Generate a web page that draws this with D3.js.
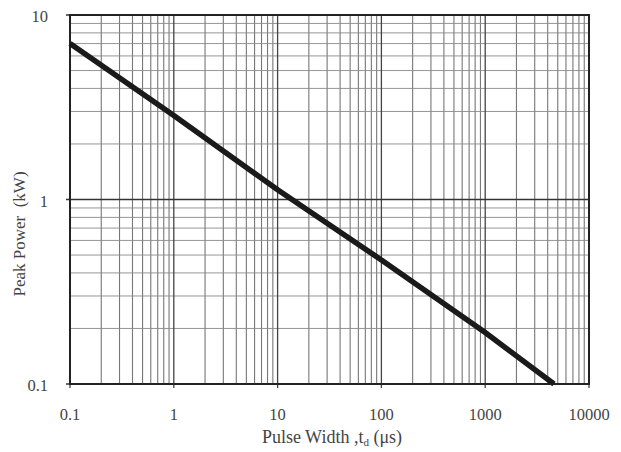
<!DOCTYPE html>
<html>
<head>
<meta charset="utf-8">
<script src="https://cdn.jsdelivr.net/npm/d3@7"></script>
<style>
	body { margin: 0; background: #fff; }
	text { font-family: "Liberation Serif", "DejaVu Serif", serif; fill: #444; white-space: pre; }
</style>
</head>
<body>
<svg id="chart" width="621" height="452"></svg>
<script>

// pulse width (us) vs peak power (kW)
var pulseWidth = [0.1, 1, 10, 100, 1000, 4600];
var peakPower = [7, 2.85, 1.13, 0.47, 0.19, 0.1];

var xTicks = [0.1, 1, 10, 100, 1000, 10000];
var xTickLabels = ["0.1", "1", "10", "100", "1000", "10000"];
var yTicks = [0.1, 1, 10];
var yTickLabels = ["0.1", "1", "10"];

var svg = d3.select("#chart");

var plotLeft = 70, plotRight = 589, plotTop = 15, plotBottom = 384;

var x = d3.scaleLog().domain([0.1, 10000]).range([plotLeft, plotRight]);
var y = d3.scaleLog().domain([0.1, 10]).range([plotBottom, plotTop]);

// minor grid, every 2..9 of each decade
function minors(scale) {
	var out = [];
	var d = scale.domain();
	for(var p = Math.round(Math.log10(d[0])); p < Math.round(Math.log10(d[1])); p++) {
		for(var k = 2; k <= 9; k++) {
			out.push(k * Math.pow(10, p));
		}
	}
	return out;
}

var grid = svg.append("g");

grid.selectAll(".vx")
.data(minors(x))
.enter().append("line")
.attr("x1", function (d) { return x(d); })
.attr("x2", function (d) { return x(d); })
.attr("y1", plotTop)
.attr("y2", plotBottom)
.style("stroke", "#777")
.style("stroke-width", 1.1);

grid.selectAll(".hy")
.data(minors(y))
.enter().append("line")
.attr("x1", plotLeft)
.attr("x2", plotRight)
.attr("y1", function (d) { return y(d); })
.attr("y2", function (d) { return y(d); })
.style("stroke", "#8a8a8a")
.style("stroke-width", 0.9);

// major grid
grid.selectAll(".mx")
.data(xTicks)
.enter().append("line")
.attr("x1", function (d) { return x(d); })
.attr("x2", function (d) { return x(d); })
.attr("y1", plotTop)
.attr("y2", plotBottom + 4)
.style("stroke", "#444")
.style("stroke-width", 1.3);

grid.selectAll(".my")
.data(yTicks)
.enter().append("line")
.attr("x1", plotLeft - 4)
.attr("x2", plotRight)
.attr("y1", function (d) { return y(d); })
.attr("y2", function (d) { return y(d); })
.style("stroke", "#333")
.style("stroke-width", 1.3);

// frame
svg.append("rect")
.attr("x", plotLeft)
.attr("y", plotTop)
.attr("width", plotRight - plotLeft)
.attr("height", plotBottom - plotTop)
.style("fill", "none")
.style("stroke", "#222")
.style("stroke-width", 2);

// curve
var line = d3.line()
.x(function (d, i) { return x(pulseWidth[i]); })
.y(function (d) { return y(d); });

svg.append("path")
.datum(peakPower)
.attr("d", line)
.style("fill", "none")
.style("stroke", "#1a1a1a")
.style("stroke-width", 5.5)
.style("stroke-linecap", "butt");

// tick labels
svg.selectAll(".xl")
.data(xTicks)
.enter().append("text")
.attr("x", function (d) { return x(d); })
.attr("y", 420)
.style("font-size", "16.5px")
.style("text-anchor", "middle")
.text(function (d, i) { return xTickLabels[i]; });

svg.selectAll(".yl")
.data(yTicks)
.enter().append("text")
.attr("x", 48)
.attr("y", function (d) { return y(d) + 7; })
.style("font-size", "16.5px")
.style("text-anchor", "end")
.text(function (d, i) { return yTickLabels[i]; });

// axis titles
var xt = svg.append("text")
.attr("x", 332)
.attr("y", 443)
.style("font-size", "18px")
.style("text-anchor", "middle");
xt.append("tspan").text("Pulse Width ,t");
xt.append("tspan").attr("dy", 3).style("font-size", "11px").text("d");
xt.append("tspan").attr("dy", -3).text(" (\u03bcs)");

svg.append("text")
.attr("transform", "translate(25,234) rotate(-90)")
.style("font-size", "17px")
.style("text-anchor", "middle")
.text("Peak Power  (kW)");

</script>
</body>
</html>
